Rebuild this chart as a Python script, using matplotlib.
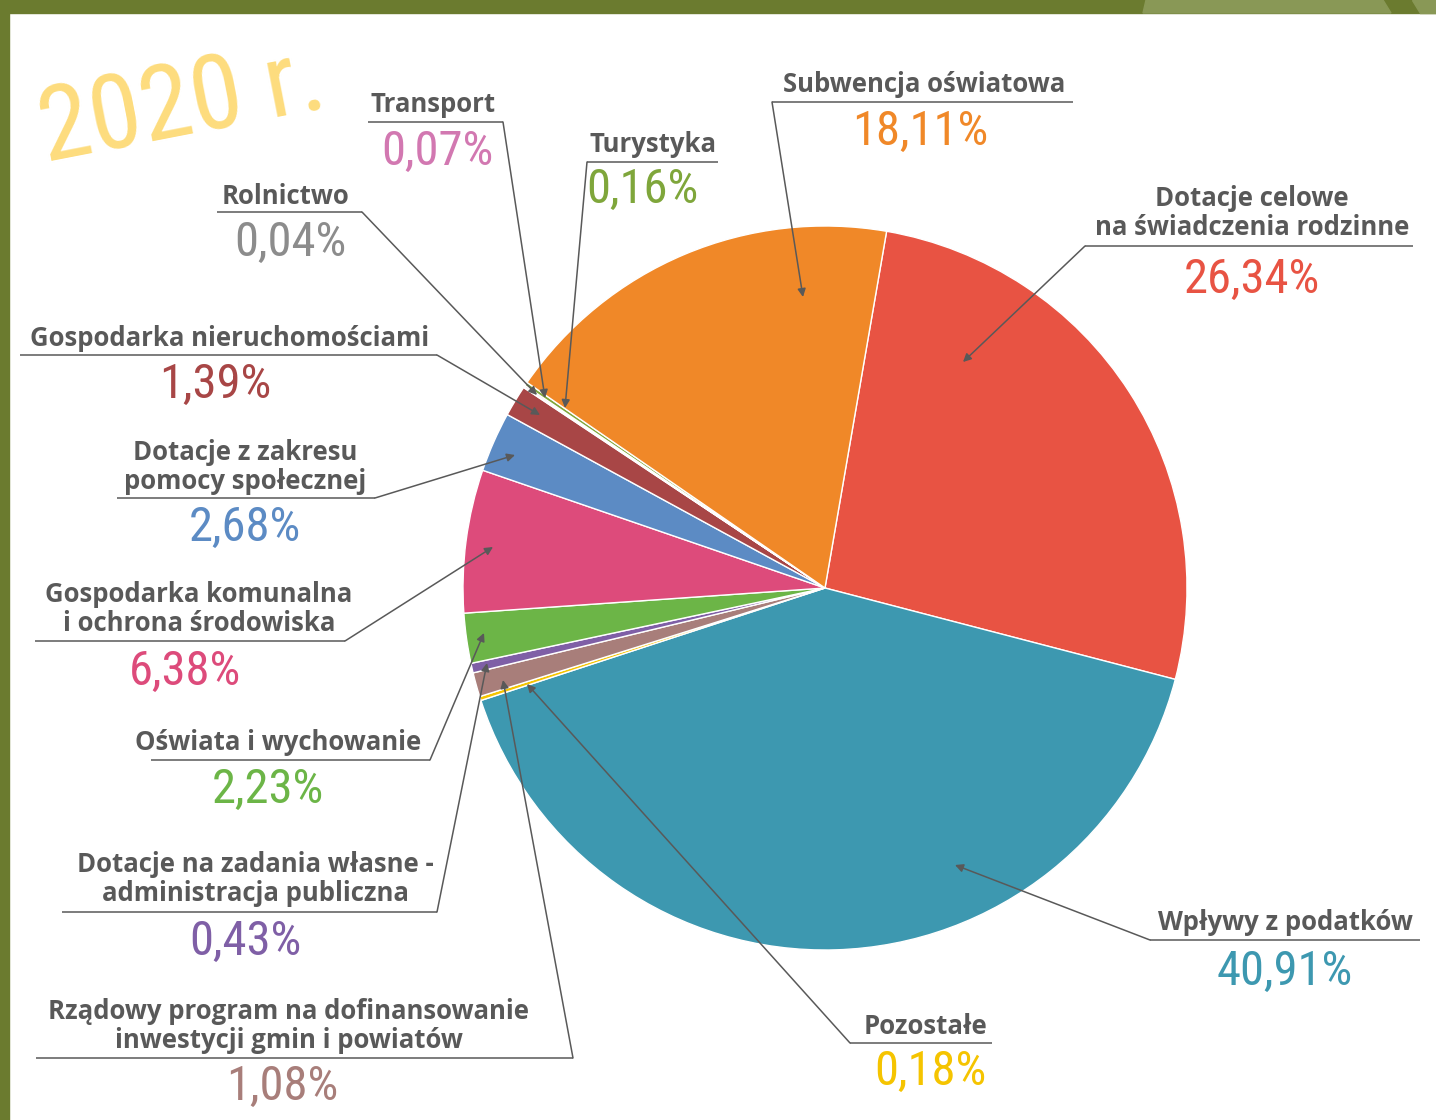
import matplotlib
matplotlib.use("Agg")
import matplotlib.pyplot as plt
from matplotlib.patches import Rectangle, Polygon

# --- data -------------------------------------------------------------
categories = [
    "Dotacje celowe\nna świadczenia rodzinne",
    "Wpływy z podatków",
    "Pozostałe",
    "Rządowy program na dofinansowanie\ninwestycji gmin i powiatów",
    "Dotacje na zadania własne -\nadministracja publiczna",
    "Oświata i wychowanie",
    "Gospodarka komunalna\ni ochrona środowiska",
    "Dotacje z zakresu\npomocy społecznej",
    "Gospodarka nieruchomościami",
    "Rolnictwo",
    "Transport",
    "Turystyka",
    "Subwencja oświatowa",
]
shares = [26.34, 40.91, 0.18, 1.08, 0.43, 2.23, 6.38, 2.68, 1.39, 0.04, 0.07, 0.16, 18.11]
colors = ["#e85343", "#3d98b0", "#f5c400", "#a87e7a", "#7f5fa6", "#6cb547",
          "#dd4b7b", "#5c8bc4", "#a84646", "#8c8c8c", "#d278b1", "#7fa63b", "#f08828"]
pct_labels = ["26,34%", "40,91%", "0,18%", "1,08%", "0,43%", "2,23%",
              "6,38%", "2,68%", "1,39%", "0,04%", "0,07%", "0,16%", "18,11%"]

# --- layout (pixel coords, y down) ------------------------------------
# label centre x, label y, underline x0/x1/y, leader start x, arrow tip, pct x, pct y
layout = [
    (1252, 213, 1085, 1413, 246, 1085, (963, 362), 1252, 280),
    (1285, 923, 1150, 1420, 940, 1150, (955, 865), 1285, 972),
    (926, 1027, 850, 992, 1043, 850, (527, 684), 930, 1072),
    (289, 1026, 36, 573, 1058, 573, (503, 680), 282, 1087),
    (255, 879, 62, 437, 912, 437, (487, 663), 245, 942),
    (278, 743, 151, 430, 760, 430, (484, 633), 268, 790),
    (199, 609, 35, 345, 641, 345, (493, 547), 185, 672),
    (245, 467, 117, 375, 498, 375, (515, 455), 245, 528),
    (230, 339, 20, 437, 355, 437, (540, 415), 215, 385),
    (286, 196, 217, 362, 212, 362, (537, 395), 290, 243),
    (433, 105, 368, 503, 122, 503, (545, 398), 437, 152),
    (653, 145, 587, 718, 162, 587, (565, 408), 642, 190),
    (924, 85, 772, 1073, 102, 772, (803, 297), 920, 132),
]

W, H = 1436, 1120
CENTER = (825, 588)
RADIUS = 362
TEXT = "#595959"
PCT_FONT = ["Roboto Condensed", "Liberation Sans Narrow", "Roboto", "DejaVu Sans"]

fig = plt.figure(figsize=(W / 100, H / 100), dpi=100)
fig.patch.set_facecolor("white")
ax = fig.add_axes([0, 0, 1, 1])

# y axis inverted: data angle -a shows as +a, so counterclock in data = clockwise on screen
ax.pie(shares, colors=colors, center=CENTER, radius=RADIUS,
       startangle=-80.2, counterclock=True,
       wedgeprops=dict(edgecolor="white", linewidth=1.0))
ax.set_xlim(0, W)
ax.set_ylim(H, 0)
ax.axis("off")

# frame: olive band on top and left
ax.add_patch(Rectangle((0, 0), W, 13, color="#6b7b2f", zorder=5))
ax.add_patch(Rectangle((0, 0), 9, H, color="#6b7b2f", zorder=5))
ax.add_patch(Polygon([(1146, 0), (1383, 0), (1391, 13), (1143, 13)], color="#899856", zorder=6))
ax.add_patch(Polygon([(1412, 0), (W, 0), (W, 13), (1420, 13)], color="#899856", zorder=6))

ax.text(182, 106, "2020 r.", color="#fddc7d", fontsize=75, rotation=11,
        ha="center", va="center", family=PCT_FONT)

for name, pct, col, (cx, ly, x0, x1, uy, sx, tip, px, py) in zip(
        categories, pct_labels, colors, layout):
    ax.text(cx, ly, name, ha="center", va="center", color=TEXT, fontsize=18.5,
            fontweight="bold", family="Open Sans", linespacing=1.08)
    ax.plot([x0, x1], [uy, uy], color=TEXT, lw=1.1, solid_capstyle="butt")
    ax.annotate("", xy=tip, xytext=(sx, uy),
                arrowprops=dict(arrowstyle="-|>", color=TEXT, lw=1.1,
                                mutation_scale=12, shrinkA=0, shrinkB=0))
    ax.text(px, py, pct, ha="center", va="center",
            color=col, fontsize=35, family=PCT_FONT)

fig.savefig("out.png", dpi=100, facecolor="white")
